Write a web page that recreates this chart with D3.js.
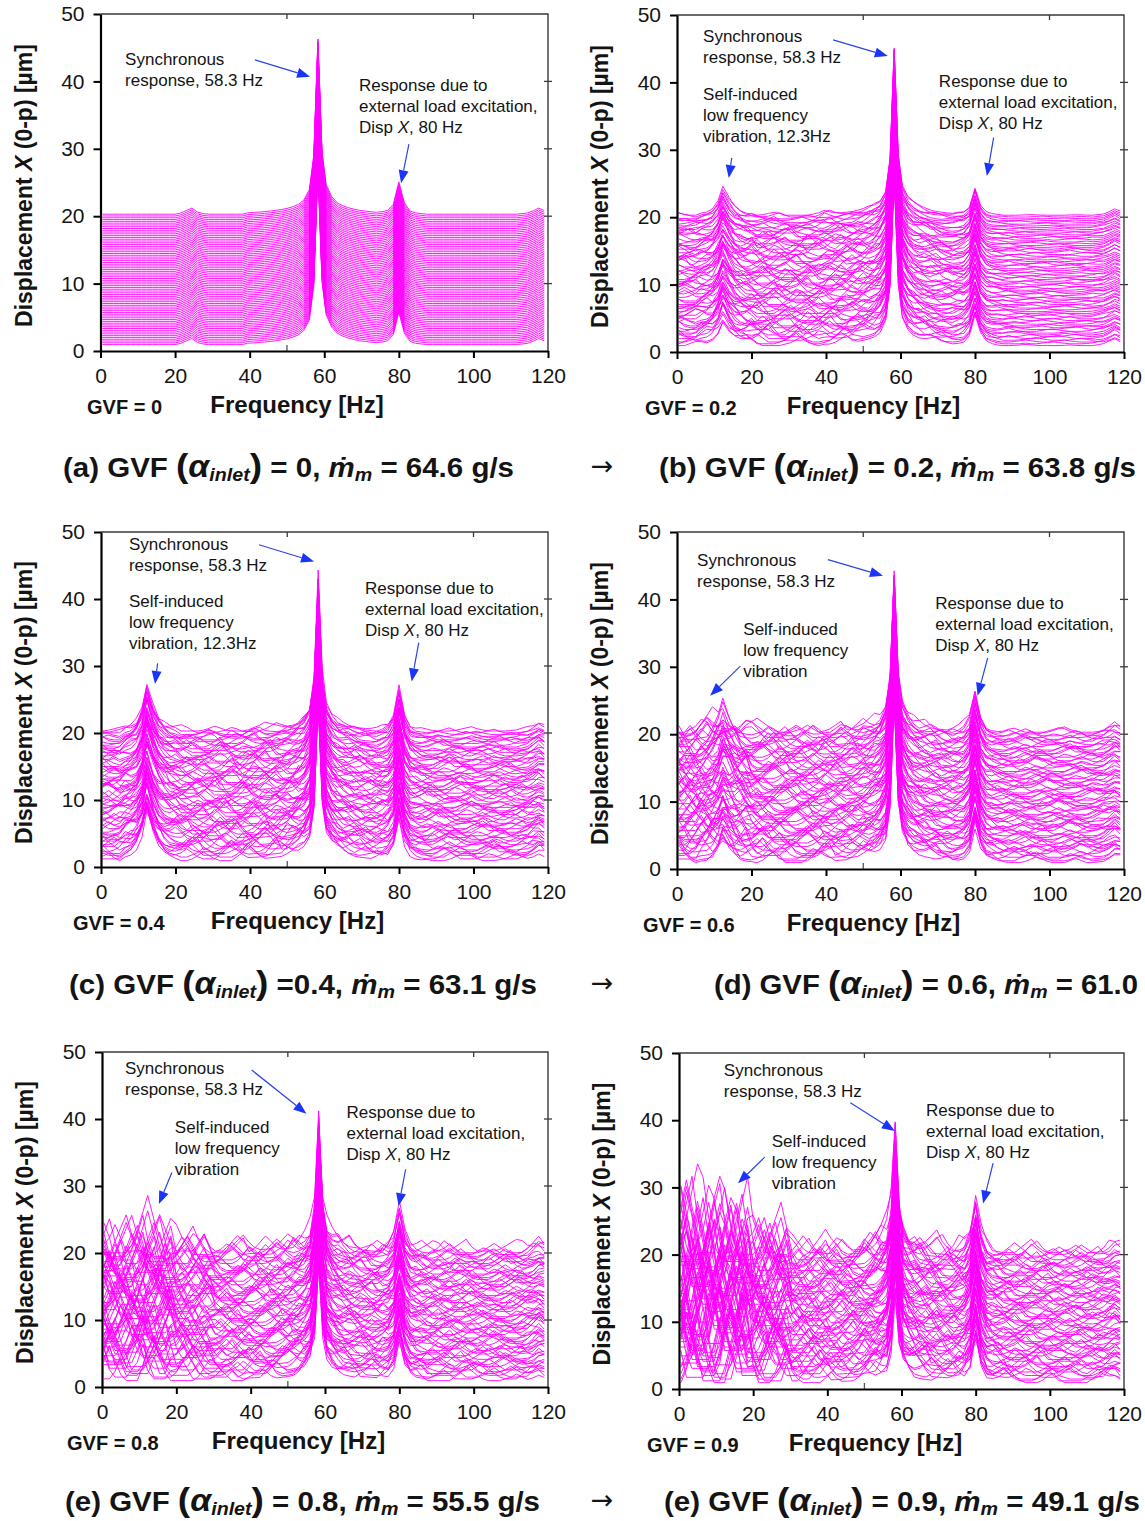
<!DOCTYPE html>
<html>
<head>
<meta charset="utf-8">
<script src="https://cdn.jsdelivr.net/npm/d3@7"></script>
<style>
  html, body { margin: 0; padding: 0; background: #fff; }
  svg { display: block; font-family: "Liberation Sans", Arial, Helvetica, sans-serif; }
</style>
</head>
<body>
<svg id="chart" width="1145" height="1521"></svg>
<script>
// ---------------------------------------------------------------------------
// Spectrum data
// ---------------------------------------------------------------------------

// Frequency bins of every spectrum [Hz]
const freqs = [0.5, 2, 3.5, 5, 6.5, 8, 9.5, 11, 12.3, 14, 15.5, 17, 18.5, 20, 21.5, 23,
  24.5, 26, 27.5, 29, 30.5, 32, 33.5, 35, 36.5, 38, 39.5, 41, 42.5, 44, 45.5, 47, 48.5,
  50, 51.5, 53, 54.5, 56, 57.2, 58.3, 59.4, 60.5, 62, 63.5, 65, 66.5, 68, 69.5, 71, 72.5,
  74, 75.5, 77, 78.5, 80, 81.5, 83, 84.5, 86, 87.5, 89, 90.5, 92, 93.5, 95, 96.5, 98,
  99.5, 101, 102.5, 104, 105.5, 107, 108.5, 110, 111.5, 113, 114.5, 116, 117.5, 119];

// Relative shape of the synchronous response around 58.3 Hz
const syncShape = [[39.5, 0.008], [41, 0.01], [42.5, 0.012], [44, 0.015], [45.5, 0.018],
  [47, 0.022], [48.5, 0.027], [50, 0.033], [51.5, 0.042], [53, 0.055], [54.5, 0.08],
  [56, 0.14], [57.2, 0.34], [58.3, 1], [59.4, 0.36], [60.5, 0.17], [62, 0.1], [63.5, 0.065],
  [65, 0.048], [66.5, 0.037], [68, 0.029], [69.5, 0.022], [71, 0.018], [72.5, 0.014],
  [74, 0.011], [75.5, 0.009], [77, 0.007]];
// Relative shape of the external load response around 80 Hz
const extShape = [[75.5, 0.03], [77, 0.08], [78.5, 0.3], [80, 1], [81.5, 0.35], [83, 0.1],
  [84.5, 0.04], [86, 0.02]];
// Relative shape of the self-induced low frequency response around 12.3 Hz
const lowShape = [[6.5, 0.08], [8, 0.12], [9.5, 0.22], [11, 0.5], [12.3, 1], [14, 0.55],
  [15.5, 0.28], [17, 0.15], [18.5, 0.08], [20, 0.05]];
// Small side bumps near 24 Hz and 118 Hz
const shape24 = [[21.5, 0.2], [23, 0.6], [24.5, 1], [26, 0.35], [27.5, 0.1]];
const shape118 = [[113, 0.1], [114.5, 0.2], [116, 0.55], [117.5, 1], [119, 0.6]];

// Per-case values (GVF = 0, 0.2, 0.4, 0.6, 0.8, 0.9)
const panelLabels = ["(a)", "(b)", "(c)", "(d)", "(e)", "(e)"];
const gvfValues = ["0", "0.2", "0.4", "0.6", "0.8", "0.9"];
const massFlows = ["64.6", "63.8", "63.1", "61.0", "55.5", "49.1"];
const flowUnits = [" g/s", " g/s", " g/s", "", " g/s", " g/s"];
const syncAmp = [26, 24.8, 23.5, 24, 19.5, 17.5];
const syncSpread = [0, 0.1, 0.2, 0.2, 0.4, 0.5];
const extAmp = [4.8, 4.3, 6.3, 5.8, 6.2, 7.5];
const extSpread = [0, 0.15, 0.2, 0.25, 0.35, 0.45];
const lowAmp = [0, 4, 7, 3, 0, 0];
const lowSpread = [0, 0.4, 0.35, 0.7, 0, 0];
const bump24Amp = [0.9, 0, 0, 0, 0, 0];
const bump118Amp = [0.9, 0.9, 1.0, 0.9, 0.8, 0.8];
// Broadband level per 10 Hz band (0-10, 10-20, ... 110-120)
const bandLevel = [
  [0, 0, 0, 0, 0, 0, 0, 0, 0, 0, 0, 0],
  [2.5, 3, 3.5, 3.5, 3.5, 3.5, 2.5, 2, 1.0, 0.7, 0.6, 0.6],
  [3, 3, 3.5, 4, 4, 4, 3, 3, 2.5, 2.5, 2.2, 2.2],
  [6, 6, 4, 3.5, 3.5, 3.5, 3, 2.5, 2, 2, 1.8, 1.8],
  [10, 11, 6.5, 4, 4, 4, 3.5, 3.5, 3, 3, 2.5, 2.5],
  [18, 17, 11, 5, 4.5, 5, 4.5, 4, 3, 3, 2.5, 2.5]
];
// Broadband weight of each trace, bottom trace first (0-9)
const traceWeight = [
  "0",
  "5678987689876789876567898767898767898765678987656789876545676543454343232",
  "6789878998767898987678987898765678989876789876567898765678765456565434343",
  "7898998987899878989897898879789898789878987898878979887898789878767876766",
  "8998989989898999898989989898989899898989899989898989898989898989898989898",
  "9989998999989998999899989998999899989998999899989998999899989998999899999"
];
// Broadband spectral rows (0-9), one per trace in rotation
const noiseRows = [
  "0135310002464100013520000024753100012420000135310002463100000135742000124310000135",
  "2000135310024631000012420001357520000124200013531000024621000001353000124631000241",
  "0012463200013531000024753100013420000024631000013520001243100000257531000124200135",
  "3100013531000242000013574200001246310001352000002463100013531000247520001243100001",
  "0243100001353100024642000013530000246310013574200000124310001352000002463100013531",
  "1000246310001353000024753100012420000135310002462000013576310001242000013531000024",
  "0001357420001246310001352000002463100013531000247520000124310001353100002464200001",
  "1353100024631000012420001357631000024310000135300002463100013574200001243100001353",
  "0024642000135310000243100013575200001246310001353000002463100012420000135753100002",
  "3100002463100013531000242000013576310001243100001353000024642000135310000243100001",
  "0135753100002463100012420000135310000246420001353100002475310001242000013531000002",
  "2463100013530000243100013574200001246310001353100024642000013531000024753100012420"
];

// Waterfall stacking
const traceCount = 74;
const firstOffset = 0.6;
const offsetStep = 0.265;
const floorLevel = 0.35;

// Axis ticks
const xTicks = [0, 20, 40, 60, 80, 100, 120];
const yTicks = [0, 10, 20, 30, 40, 50];
const rightTicks = [10, 20, 30, 40];
const topTicks = [50, 100];

// Annotations (anchor and arrows in data units)
const annotations = [
  [
    { lines: ["Synchronous", "response, 58.3 Hz"], at: [6.6, 42.4], tail: [41.4, 43.2], head: [56.2, 40.7] },
    { lines: ["Response due to", "external load excitation,", "Disp {X}, 80 Hz"], at: [69.3, 38.6], tail: [82.7, 30.7], head: [80.6, 24.9] }
  ],
  [
    { lines: ["Synchronous", "response, 58.3 Hz"], at: [7.0, 46.0], tail: [41.9, 46.3], head: [56.6, 43.9] },
    { lines: ["Self-induced", "low frequency", "vibration, 12.3Hz"], at: [7.0, 37.4], tail: [14.7, 28.8], head: [13.9, 25.8] },
    { lines: ["Response due to", "external load excitation,", "Disp {X}, 80 Hz"], at: [70.3, 39.3], tail: [85.0, 31.8], head: [83.2, 26.1] }
  ],
  [
    { lines: ["Synchronous", "response, 58.3 Hz"], at: [7.5, 47.3], tail: [42.4, 48.1], head: [57.2, 45.6] },
    { lines: ["Self-induced", "low frequency", "vibration, 12.3Hz"], at: [7.5, 38.8], tail: [15.2, 30.4], head: [14.5, 27.3] },
    { lines: ["Response due to", "external load excitation,", "Disp {X}, 80 Hz"], at: [70.9, 40.7], tail: [85.3, 33.5], head: [83.4, 27.7] }
  ],
  [
    { lines: ["Synchronous", "response, 58.3 Hz"], at: [5.4, 45.0], tail: [40.5, 45.9], head: [55.3, 43.5] },
    { lines: ["Self-induced", "low frequency", "vibration"], at: [17.8, 34.7], tail: [17.0, 30.1], head: [8.9, 25.7] },
    { lines: ["Response due to", "external load excitation,", "Disp {X}, 80 Hz"], at: [69.3, 38.6], tail: [83.4, 31.3], head: [80.7, 25.7] }
  ],
  [
    { lines: ["Synchronous", "response, 58.3 Hz"], at: [6.2, 46.7], tail: [40.3, 47.3], head: [55.0, 40.8] },
    { lines: ["Self-induced", "low frequency", "vibration"], at: [19.6, 37.9], tail: [18.8, 32.0], head: [15.3, 27.3] },
    { lines: ["Response due to", "external load excitation,", "Disp {X}, 80 Hz"], at: [65.8, 40.1], tail: [81.7, 32.5], head: [79.8, 27.0] }
  ],
  [
    { lines: ["Synchronous", "response, 58.3 Hz"], at: [12.1, 46.6], tail: [46.2, 42.6], head: [58.2, 38.4] },
    { lines: ["Self-induced", "low frequency", "vibration"], at: [25.0, 36.0], tail: [23.1, 34.5], head: [15.9, 30.6] },
    { lines: ["Response due to", "external load excitation,", "Disp {X}, 80 Hz"], at: [66.6, 40.6], tail: [84.7, 33.6], head: [82.0, 27.6] }
  ]
];

// ---------------------------------------------------------------------------
// Layout
// ---------------------------------------------------------------------------
const layout = [
  { x0: 100.5, x1: 548, yT: 14, yB: 351, gvfX: 87 },
  { x0: 677, x1: 1124, yT: 15, yB: 352, gvfX: 645 },
  { x0: 101, x1: 548, yT: 532, yB: 867, gvfX: 73 },
  { x0: 677, x1: 1124, yT: 532, yB: 869, gvfX: 643 },
  { x0: 102, x1: 548, yT: 1052, yB: 1387, gvfX: 67 },
  { x0: 679, x1: 1124, yT: 1053, yB: 1389, gvfX: 647 }
];
const captionRows = [
  { left: 0, right: 1, y: 477 },
  { left: 2, right: 3, y: 994 },
  { left: 4, right: 5, y: 1511 }
];
const captionBox = [
  { x: 63, w: 451 }, { x: 659, w: 477 },
  { x: 69, w: 468 }, { x: 714, w: 424 },
  { x: 65, w: 475 }, { x: 664, w: 476 }
];
const captionEq = [" = ", " = ", " =", " = ", " = ", " = "];

const TRACE_COLOR = "#ff00ff";
const ARROW_COLOR = "#2a45e8";
const TEXT_COLOR = "#141414";

// ---------------------------------------------------------------------------
// Build the spectra of one case
// ---------------------------------------------------------------------------
const toMap = pairs => new Map(pairs.map(p => [p[0], p[1]]));
const syncMap = toMap(syncShape), extMap = toMap(extShape), lowMap = toMap(lowShape);
const b24Map = toMap(shape24), b118Map = toMap(shape118);

function traceValues(p, i) {
  const row = noiseRows[(i * 5 + p * 3) % noiseRows.length];
  const shift = (i * 7 + p * 11) % row.length;
  const level = k => +row[(k + shift) % row.length] / 9;
  const wStr = traceWeight[p];
  const w = +wStr[Math.round(i * (wStr.length - 1) / (traceCount - 1))] / 9;
  const sF = 1 - syncSpread[p] * level(3);
  const eF = 1 - extSpread[p] * level(17);
  const lF = 1 - lowSpread[p] * level(29);
  const off = firstOffset + i * offsetStep;
  return freqs.map((f, j) => {
    const band = Math.min(11, Math.floor(f / 10));
    return off + floorLevel
      + bandLevel[p][band] * w * level(j)
      + syncAmp[p] * sF * (syncMap.get(f) || 0)
      + extAmp[p] * eF * (extMap.get(f) || 0)
      + lowAmp[p] * lF * (lowMap.get(f) || 0)
      + bump24Amp[p] * (b24Map.get(f) || 0)
      + bump118Amp[p] * (b118Map.get(f) || 0);
  });
}

// ---------------------------------------------------------------------------
// Draw
// ---------------------------------------------------------------------------
const svg = d3.select("#chart");
svg.append("rect").attr("width", 1145).attr("height", 1521).attr("fill", "#fff");

layout.forEach((L, p) => {
  const g = svg.append("g").attr("class", "panel");
  const x = d3.scaleLinear().domain([0, 120]).range([L.x0, L.x1]);
  const y = d3.scaleLinear().domain([0, 50]).range([L.yB, L.yT]);

  // waterfall traces, bottom trace first
  const traces = d3.range(traceCount).map(i => traceValues(p, i));
  const line = d3.line().x((d, j) => x(freqs[j])).y(d => y(d));
  g.append("g")
    .selectAll("path")
    .data(traces)
    .join("path")
    .attr("d", line)
    .attr("fill", "none")
    .attr("stroke", TRACE_COLOR)
    .attr("stroke-width", 0.9)
    .attr("stroke-linejoin", "round");

  // frame (top and right)
  g.append("path")
    .attr("d", `M${L.x0},${L.yT}H${L.x1}V${L.yB}`)
    .attr("fill", "none").attr("stroke", "#3a3a3a").attr("stroke-width", 1.4);
  g.append("g").selectAll("line").data(rightTicks).join("line")
    .attr("x1", L.x1 - 4).attr("x2", L.x1 + 4)
    .attr("y1", d => y(d)).attr("y2", d => y(d))
    .attr("stroke", "#3a3a3a").attr("stroke-width", 1.3);
  g.append("g").selectAll("line").data(topTicks).join("line")
    .attr("x1", d => x(d)).attr("x2", d => x(d))
    .attr("y1", L.yT).attr("y2", L.yT + 5)
    .attr("stroke", "#3a3a3a").attr("stroke-width", 1.3);
  g.append("line")
    .attr("x1", x(50)).attr("x2", x(50)).attr("y1", L.yB).attr("y2", L.yB - 6)
    .attr("stroke", "#555").attr("stroke-width", 1.3);

  // left axis
  const ay = g.append("g").attr("transform", `translate(${L.x0},0)`)
    .call(d3.axisLeft(y).tickValues(yTicks).tickSize(7).tickSizeOuter(0).tickPadding(9));
  // bottom axis
  const ax = g.append("g").attr("transform", `translate(0,${L.yB})`)
    .call(d3.axisBottom(x).tickValues(xTicks).tickSize(7).tickSizeOuter(0).tickPadding(10));
  [ax, ay].forEach(a => {
    a.select(".domain").attr("stroke", "#000").attr("stroke-width", 2.2);
    a.selectAll(".tick line").attr("stroke", "#000").attr("stroke-width", 2);
    a.selectAll(".tick text")
      .attr("font-size", 21)
      .attr("font-family", "'Liberation Sans', Arial, sans-serif")
      .attr("fill", TEXT_COLOR);
  });

  // axis titles
  const yt = g.append("text")
    .attr("transform", `translate(${L.x0 - 69},${(L.yT + L.yB) / 2 + 3}) rotate(-90)`)
    .attr("text-anchor", "middle")
    .attr("font-size", 23).attr("font-weight", "bold").attr("fill", TEXT_COLOR);
  yt.append("tspan").text("Displacement ");
  yt.append("tspan").attr("font-style", "italic").text("X");
  yt.append("tspan").text(" (0-p) [µm]");

  g.append("text")
    .attr("x", L.x0 + 196.5).attr("y", L.yB + 62)
    .attr("text-anchor", "middle")
    .attr("font-size", 24).attr("font-weight", "bold").attr("fill", TEXT_COLOR)
    .text("Frequency [Hz]");

  g.append("text")
    .attr("x", L.gvfX).attr("y", L.yB + 63)
    .attr("font-size", 20).attr("font-weight", "bold").attr("fill", TEXT_COLOR)
    .text(`GVF = ${gvfValues[p]}`);

  // annotations with arrows
  annotations[p].forEach(a => {
    const t = g.append("text")
      .attr("font-size", 17).attr("fill", TEXT_COLOR);
    a.lines.forEach((ln, k) => {
      const parts = ln.split("{X}");
      parts.forEach((part, m) => {
        const ts = t.append("tspan").text(part);
        if (m === 0) ts.attr("x", x(a.at[0])).attr("y", y(a.at[1]) + k * 21);
        if (m < parts.length - 1) t.append("tspan").attr("font-style", "italic").text("X");
      });
    });

    const tx = x(a.tail[0]), ty = y(a.tail[1]);
    const hx = x(a.head[0]), hy = y(a.head[1]);
    const len = Math.hypot(hx - tx, hy - ty);
    const ux = (hx - tx) / len, uy = (hy - ty) / len;
    const headLen = 13, headHalf = 5;
    const bx = hx - ux * headLen, by = hy - uy * headLen;
    g.append("line")
      .attr("x1", tx).attr("y1", ty).attr("x2", bx).attr("y2", by)
      .attr("stroke", ARROW_COLOR).attr("stroke-width", 1.2);
    g.append("path")
      .attr("d", `M${hx},${hy}L${bx - uy * headHalf},${by + ux * headHalf}L${bx + uy * headHalf},${by - ux * headHalf}Z`)
      .attr("fill", "#1a35f5");
  });
});

// ---------------------------------------------------------------------------
// Captions
// ---------------------------------------------------------------------------
function drawCaption(p, baseline) {
  const box = captionBox[p];
  const t = svg.append("text")
    .attr("x", box.x).attr("y", baseline)
    .attr("font-size", 27).attr("font-weight", "bold").attr("fill", TEXT_COLOR)
    .attr("textLength", box.w).attr("lengthAdjust", "spacingAndGlyphs");
  t.append("tspan").text(`${panelLabels[p]} GVF `);
  t.append("tspan").attr("font-size", 34).text("(");
  t.append("tspan").attr("font-style", "italic").attr("font-size", 31).text("α");
  t.append("tspan").attr("font-style", "italic").attr("font-size", 18).attr("dy", 4).text("inlet");
  t.append("tspan").attr("font-size", 34).attr("dy", -4).text(")");
  t.append("tspan").text(`${captionEq[p]}${gvfValues[p]}, `);
  t.append("tspan").attr("font-style", "italic").text("ṁ");
  t.append("tspan").attr("font-style", "italic").attr("font-size", 18).attr("dy", 4).text("m");
  t.append("tspan").attr("dy", -4).text(` = ${massFlows[p]}${flowUnits[p]}`);
}

captionRows.forEach(r => {
  drawCaption(r.left, r.y);
  drawCaption(r.right, r.y);
  svg.append("text")
    .attr("x", 602).attr("y", r.y - 2)
    .attr("text-anchor", "middle")
    .attr("font-size", 27).attr("fill", TEXT_COLOR)
    .attr("font-family", "'DejaVu Sans', sans-serif")
    .text("→");
});
</script>
</body>
</html>
